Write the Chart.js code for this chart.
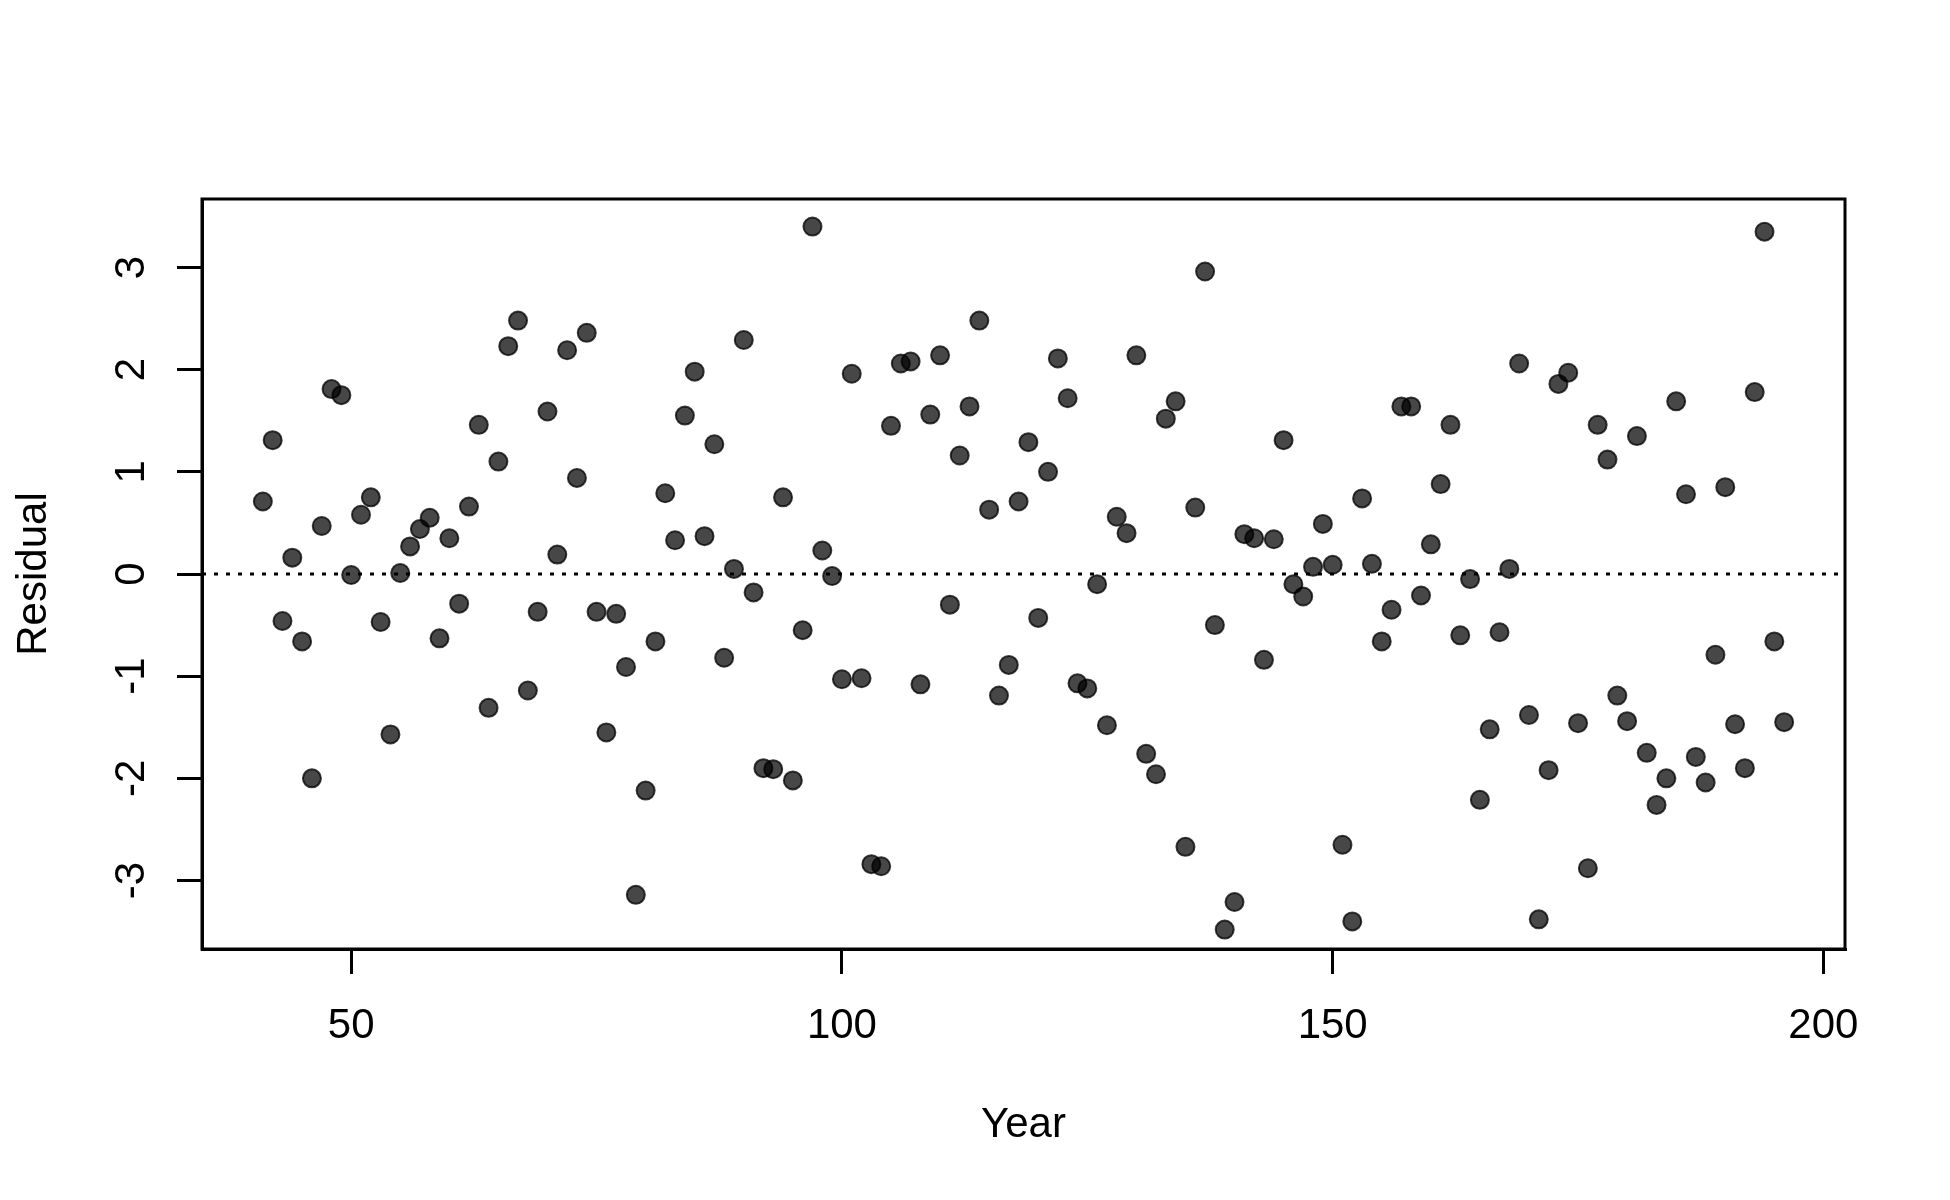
<!DOCTYPE html>
<html>
<head>
<meta charset="utf-8">
<script src="https://cdn.jsdelivr.net/npm/chart.js@4.4.0/dist/chart.umd.min.js"></script>
<style>
  html, body { margin: 0; padding: 0; background: #ffffff; }
  #wrap { width: 1950px; height: 1200px; }
</style>
</head>
<body>
<div id="wrap"><canvas id="graph-resid" width="1950" height="1200"></canvas></div>
<script>
// années 41 à 196, un résidu par année
const firstYear = 41;
const lastYear = 196;
const residuals = [
    0.71, 1.31, -0.46, 0.16, -0.66, -2.00, 0.47, 1.81, 1.75, -0.01,
    0.58, 0.75, -0.47, -1.57, 0.01, 0.27, 0.44, 0.55, -0.63, 0.35,
    -0.29, 0.66, 1.46, -1.31, 1.10, 2.23, 2.48, -1.14, -0.37, 1.59,
    0.19, 2.19, 0.94, 2.36, -0.37, -1.55, -0.39, -0.91, -3.14, -2.12,
    -0.66, 0.79, 0.33, 1.55, 1.98, 0.37, 1.27, -0.82, 0.05, 2.29,
    -0.18, -1.90, -1.91, 0.75, -2.02, -0.55, 3.40, 0.23, -0.02, -1.03,
    1.96, -1.02, -2.84, -2.86, 1.45, 2.06, 2.08, -1.08, 1.56, 2.14,
    -0.30, 1.16, 1.64, 2.48, 0.63, -1.19, -0.89, 0.71, 1.29, -0.43,
    1.00, 2.11, 1.72, -1.07, -1.12, -0.10, -1.48, 0.56, 0.40, 2.14,
    -1.76, -1.96, 1.52, 1.69, -2.67, 0.65, 2.96, -0.50, -3.48, -3.21,
    0.39, 0.35, -0.84, 0.34, 1.31, -0.10, -0.22, 0.07, 0.49, 0.09,
    -2.65, -3.40, 0.74, 0.10, -0.66, -0.35, 1.64, 1.64, -0.21, 0.29,
    0.88, 1.46, -0.60, -0.05, -2.21, -1.52, -0.57, 0.05, 2.06, -1.38,
    -3.38, -1.92, 1.86, 1.97, -1.46, -2.88, 1.46, 1.12, -1.19, -1.44,
    1.35, -1.75, -2.26, -2.00, 1.69, 0.78, -1.79, -2.04, -0.79, 0.85,
    -1.47, -1.90, 1.78, 3.35, -0.66, -1.45
];
const xTicks = [50, 100, 150, 200];
const yTicks = [-3, -2, -1, 0, 1, 2, 3];
const xRange = [34.8, 202.2];
const yRange = [-3.67, 3.67];

const years = [];
for (let a = firstYear; a <= lastYear; a++) years.push(a);
const points = years.map((a, i) => ({ x: a, y: residuals[i] }));

const police = "'Liberation Sans', Arial, sans-serif";

// cadre complet autour de la zone de tracé
const cadre = {
    id: "cadre",
    afterDatasetsDraw(chart) {
        const { ctx, chartArea: a } = chart;
        ctx.save();
        ctx.strokeStyle = "#000";
        ctx.lineWidth = 3;
        ctx.strokeRect(a.left, a.top, a.right - a.left, a.bottom - a.top);
        ctx.restore();
    }
};

const ctx = document.getElementById("graph-resid").getContext("2d");
new Chart(ctx, {
    type: "scatter",
    data: {
        datasets: [
            {
                type: "line",
                data: [{ x: xRange[0], y: 0 }, { x: xRange[1], y: 0 }],
                borderColor: "#000",
                borderWidth: 3,
                borderDash: [4, 8],
                pointRadius: 0,
                fill: false
            },
            {
                data: points,
                backgroundColor: "rgba(0,0,0,0.72)",
                borderColor: "rgba(0,0,0,0.75)",
                borderWidth: 2,
                pointRadius: 9,
                pointHoverRadius: 9
            }
        ]
    },
    options: {
        responsive: false,
        animation: false,
        devicePixelRatio: 1,
        layout: { padding: { left: 0, top: 199, right: 105, bottom: 0 } },
        plugins: { legend: { display: false }, tooltip: { enabled: false } },
        scales: {
            x: {
                type: "linear",
                min: xRange[0],
                max: xRange[1],
                afterBuildTicks: s => { s.ticks = xTicks.map(v => ({ value: v })); },
                afterFit: s => { s.height = 251; },
                grid: { drawOnChartArea: false, drawTicks: true, tickLength: 25, color: "#000", lineWidth: 3 },
                border: { display: true, color: "#000", width: 3 },
                ticks: { color: "#000", font: { family: police, size: 42 }, padding: 27, maxRotation: 0 },
                title: { display: true, text: "Year", color: "#000", font: { family: police, size: 42 }, padding: { top: 0, bottom: 49 } }
            },
            y: {
                type: "linear",
                min: yRange[0],
                max: yRange[1],
                afterBuildTicks: s => { s.ticks = yTicks.map(v => ({ value: v })); },
                afterFit: s => { s.width = 202; },
                grid: { drawOnChartArea: false, drawTicks: true, tickLength: 25, color: "#000", lineWidth: 3 },
                border: { display: true, color: "#000", width: 3 },
                ticks: { color: "#000", font: { family: police, size: 42 }, padding: 26, minRotation: 90, maxRotation: 90, crossAlign: "center" },
                title: { display: true, text: "Residual", color: "#000", font: { family: police, size: 42 }, padding: { top: 9, bottom: 0 } }
            }
        }
    },
    plugins: [cadre]
});
</script>
</body>
</html>
